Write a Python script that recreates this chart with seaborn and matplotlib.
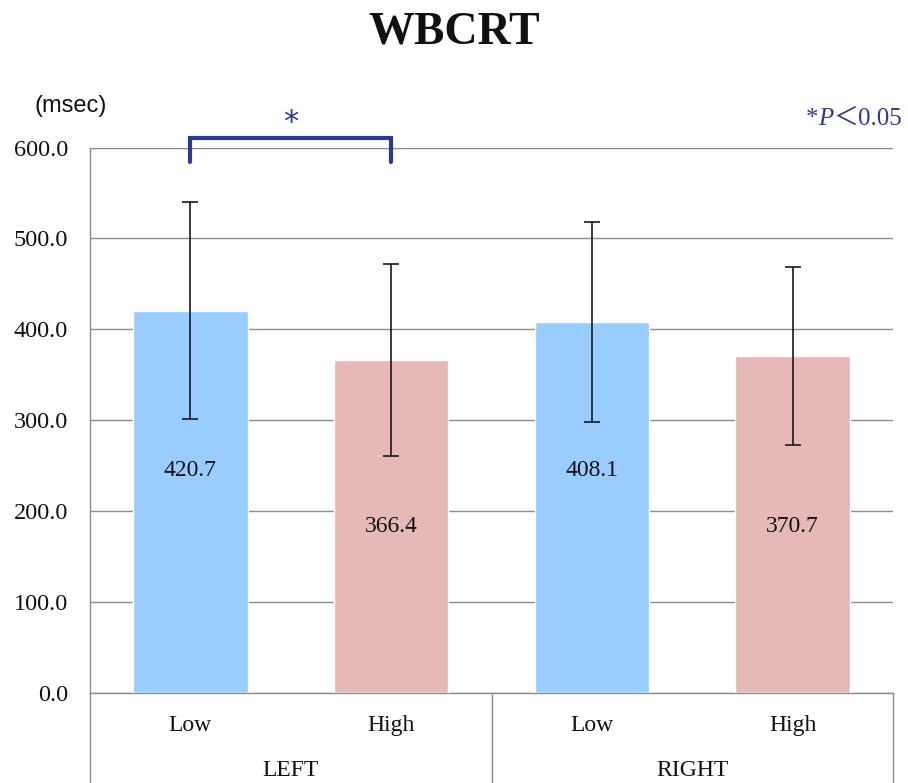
import numpy as np
import pandas as pd
import matplotlib
matplotlib.use("Agg")
import matplotlib.pyplot as plt
import matplotlib.transforms as mtrans
import seaborn as sns

# ---- data ----
sides = ["LEFT", "LEFT", "RIGHT", "RIGHT"]
levels = ["Low", "High", "Low", "High"]
means = [420.7, 366.4, 408.1, 370.7]
sds = [119.0, 105.5, 110.0, 97.7]
label_y = [245, 183, 245, 183]
yticks = [0, 100, 200, 300, 400, 500, 600]
group_names = ["LEFT", "RIGHT"]

sns.set_theme(style="white")
plt.rcParams["font.family"] = ["Liberation Serif", "DejaVu Sans"]

df = pd.DataFrame({
    "group": [f"{s}-{l}" for s, l in zip(sides, levels)],
    "level": levels,
    "mean": means,
})

W, H = 908, 783
fig = plt.figure(figsize=(W / 100, H / 100), dpi=100)
ax = fig.add_axes([0.0991, 0.1152, 0.8844, 0.6963])

palette = {"Low": "#99CCFF", "High": "#E6B9B8"}
sns.barplot(data=df, x="group", y="mean", hue="level", palette=palette,
            width=0.57, dodge=False, errorbar=None, saturation=1,
            legend=False, ax=ax, zorder=3)

xs = np.arange(len(means))
ax.errorbar(xs, means, yerr=sds, fmt="none", ecolor="#1a1a1a",
            elinewidth=1.2, capsize=6, capthick=1.2, zorder=4)

for x, y, m in zip(xs, label_y, means):
    ax.text(x, y, f"{m:.1f}", ha="center", va="center", fontsize=17,
            color="#111111", zorder=5)

ax.set_xlim(-0.5, 3.5)
ax.set_ylim(0, 600)
ax.set_yticks(yticks)
ax.set_yticklabels([f"{v:.1f}" for v in yticks], fontsize=17.5, color="#111111")
ax.set_xticks(xs)
ax.set_xticklabels(levels, fontsize=17, color="#111111")
ax.tick_params(axis="both", length=0)
ax.tick_params(axis="y", pad=16)
ax.tick_params(axis="x", pad=16)
ax.set_xlabel("")
ax.set_ylabel("")

ax.yaxis.grid(True, color="#8c8c8c", linewidth=1.0, zorder=0)
ax.set_axisbelow(True)
for sp in ["top", "right"]:
    ax.spines[sp].set_visible(False)
ax.spines["left"].set_color("#8c8c8c")
ax.spines["bottom"].set_color("#8c8c8c")
ax.spines["left"].set_linewidth(1.0)
ax.spines["bottom"].set_linewidth(1.0)

# category table below axis
trans = mtrans.blended_transform_factory(ax.transData, ax.transAxes)
for xv in [-0.5, 1.5, 3.5]:
    ax.plot([xv, xv], [0, -0.25], transform=trans, color="#8c8c8c",
            linewidth=1.0, clip_on=False)
for i, g in enumerate(group_names):
    ax.text(2 * i + 0.5, -0.143, g, transform=trans, ha="center",
            va="center", fontsize=17, color="#111111")

# significance bracket
bcol = "#2B3A9A"
ax.plot([0, 0, 1, 1], [584, 611, 611, 584], color=bcol, linewidth=3,
        clip_on=False, solid_joinstyle="miter", zorder=6)
ax.text(0.5, 628, "*", ha="center", va="center", fontsize=22,
        color=bcol, family=["DejaVu Sans"])

fig.text(0.5, 1 - 32 / H, "WBCRT", ha="center", va="center",
         fontsize=33, fontweight="bold", color="#111111")
fig.text(35 / W, 1 - 106 / H, "(msec)", ha="left", va="center",
         fontsize=17, color="#111111",
         family=["Liberation Sans Narrow", "Liberation Sans"])

# "*P<0.05" note composed of pieces
renderer = fig.canvas.get_renderer()
yp = 1 - 119 / H
t3 = fig.text(902 / W, yp, "＜0.05", ha="right", va="center", fontsize=18,
              color=bcol, family=["Liberation Serif", "Noto Sans CJK JP"])
bb = t3.get_window_extent(renderer)
t2 = fig.text(bb.x0 / W, yp, "P", ha="right", va="center", fontsize=18,
              color=bcol, style="italic", family=["Liberation Serif"])
bb2 = t2.get_window_extent(renderer)
fig.text(bb2.x0 / W, yp, "*", ha="right", va="center", fontsize=18,
         color=bcol, family=["Liberation Serif"])

fig.savefig("out.png", dpi=100, facecolor="white")
